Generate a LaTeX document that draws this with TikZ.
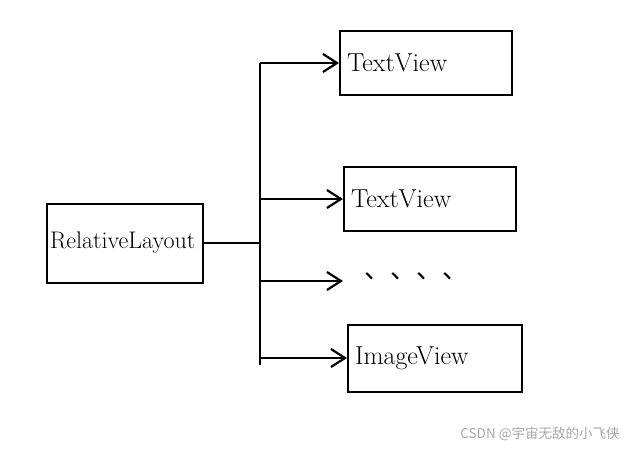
\documentclass[tikz,border=0pt]{standalone}
\usepackage{fontspec}
\newfontfamily\cjk{Noto Sans CJK SC}
\usetikzlibrary{positioning,arrows.meta}
\tikzset{
  viewbox/.style={draw, line width=2pt, minimum height=64pt, text width=158pt,
    inner xsep=7pt, align=left, font=\fontsize{26}{30}\selectfont},
  arr/.style={line width=2.2pt, -{Straight Barb[length=14pt,width=18pt,line width=2.2pt]}}
}

\begin{document}
\begin{tikzpicture}[x=1pt, y=-1pt]
\useasboundingbox (0,0) rectangle (637,450);
\node[viewbox, text width=150pt, inner xsep=3pt, minimum height=79pt,
  font=\fontsize{24}{28}\selectfont] (layout) at (125,243) {RelativeLayout};
\node[viewbox] (tv1) at (426,63) {TextView};
\node[viewbox] (tv2) at (430,199) {TextView};
\node[viewbox, text width=160pt, minimum height=67pt] (iv) at (435,358) {ImageView};
\node[font=\cjk\fontsize{26}{30}\selectfont] (dots) at (416,276) {、、、、};
\coordinate (top) at (260,63);
\coordinate (bot) at (260,365);
\coordinate (dotend) at (343,281);
\draw[line width=2.2pt] (top) -- (bot);
\draw[line width=2.2pt] (layout.east) -- (layout.east -| top);
\draw[arr] (top) -- (tv1.west);
\draw[arr] (tv2.west -| top) -- (tv2.west);
\draw[arr] (dotend -| top) -- (dotend);
\draw[arr] (iv.west -| top) -- (iv.west);
\node[font=\cjk\fontsize{13.5}{16}\selectfont, text=black!35] (mark) at (540,434) {CSDN @宇宙无敌的小飞侠};
\end{tikzpicture}
\end{document}
